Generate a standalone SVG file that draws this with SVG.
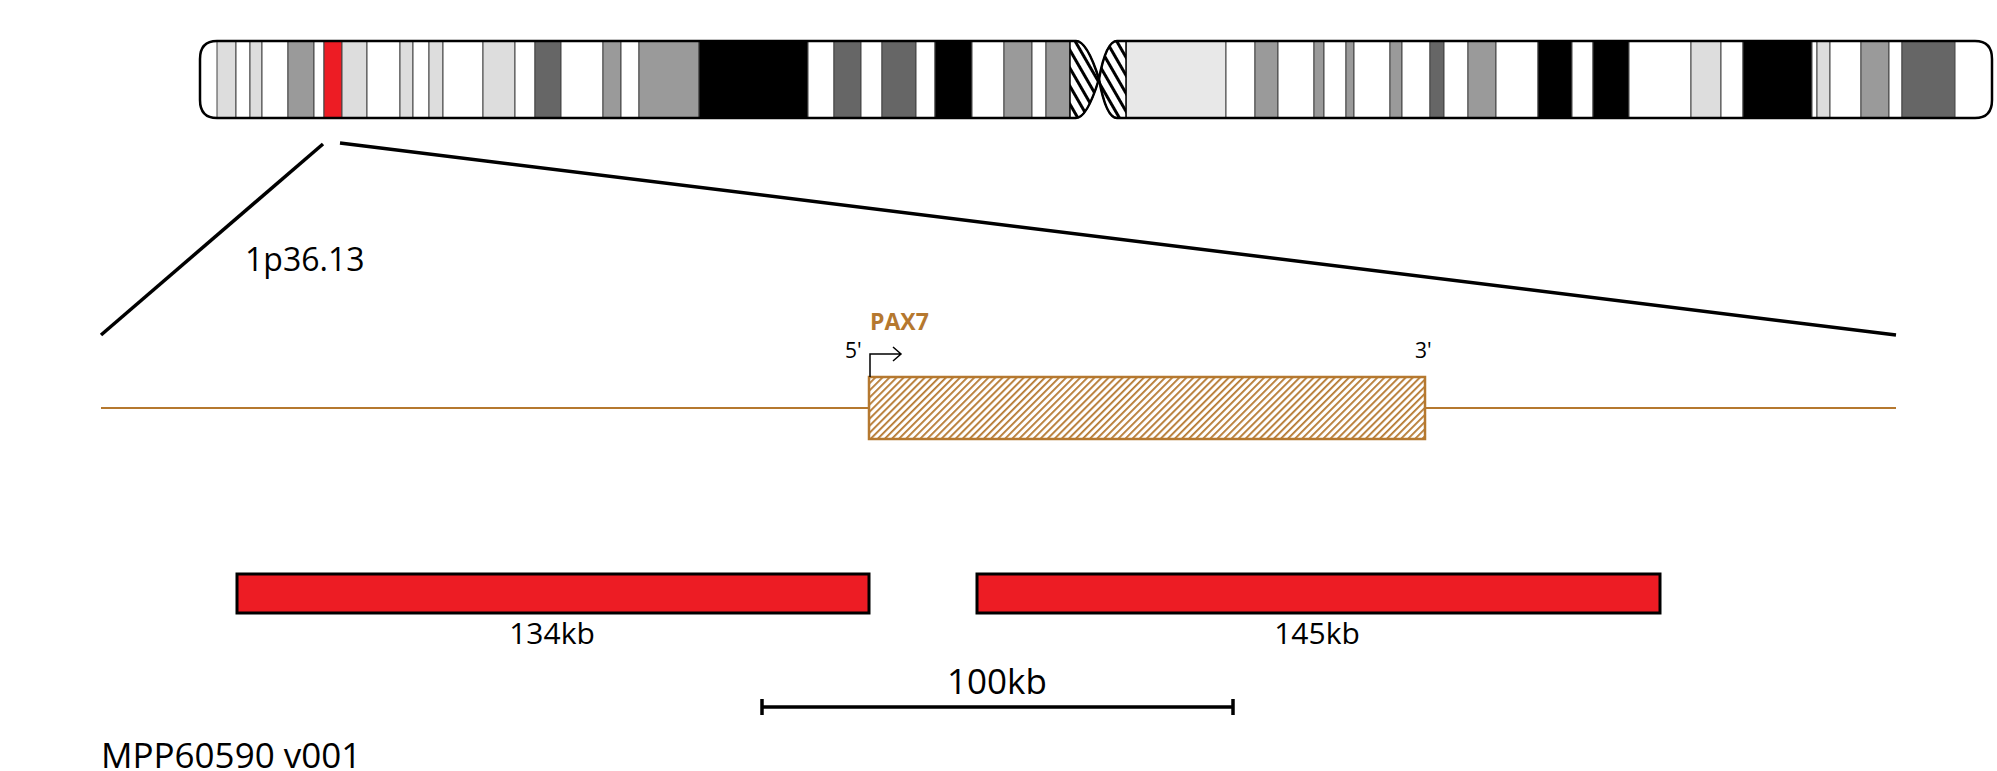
<svg xmlns="http://www.w3.org/2000/svg" width="1997" height="771" viewBox="0 0 1997 771">
<style>
text{font-family:"Open Sans","Liberation Sans",sans-serif;fill:#000}
.b{stroke:#444;stroke-width:1}
.w{fill:#fff}.l{fill:#ddd}.g{fill:#9a9a9a}.d{fill:#666}.k{fill:#000}.r{fill:#ed1c24}.e{fill:#e8e8e8}
.red{fill:#ed1c24;stroke:#000;stroke-width:3}
</style>
<defs>
<pattern id="ch" width="9" height="9" patternUnits="userSpaceOnUse" patternTransform="rotate(-30)"><rect width="9" height="9" fill="#fff"/><rect width="3" height="9" fill="#000"/></pattern>
<pattern id="gh" width="5" height="5" patternUnits="userSpaceOnUse" patternTransform="rotate(45)"><rect width="5" height="5" fill="#fff"/><rect width="1.8" height="5" fill="#b5782f"/></pattern>
</defs>
<g id="chromosome">
<path d="M217,41 H1072 Q1085,41 1099,79 Q1085,118 1072,118 H217 Q200,118 200,100 V59 Q200,41 217,41 Z" fill="#fff"/>
<g class="b">
<rect x="217" y="41" width="19" height="77" class="l"/><rect x="236" y="41" width="14" height="77" class="w"/>
<rect x="250" y="41" width="12" height="77" class="l"/><rect x="262" y="41" width="26" height="77" class="w"/>
<rect x="288" y="41" width="26" height="77" class="g"/><rect x="314" y="41" width="10" height="77" class="w"/>
<rect x="324" y="41" width="18" height="77" class="r"/><rect x="342" y="41" width="25" height="77" class="l"/>
<rect x="367" y="41" width="33" height="77" class="w"/><rect x="400" y="41" width="13" height="77" class="l"/>
<rect x="413" y="41" width="16" height="77" class="w"/><rect x="429" y="41" width="14" height="77" class="l"/>
<rect x="443" y="41" width="40" height="77" class="w"/><rect x="483" y="41" width="32" height="77" class="l"/>
<rect x="515" y="41" width="20" height="77" class="w"/><rect x="535" y="41" width="26" height="77" class="d"/>
<rect x="561" y="41" width="42" height="77" class="w"/><rect x="603" y="41" width="18" height="77" class="g"/>
<rect x="621" y="41" width="18" height="77" class="w"/><rect x="639" y="41" width="60" height="77" class="g"/>
<rect x="699" y="41" width="109" height="77" class="k"/><rect x="808" y="41" width="26" height="77" class="w"/>
<rect x="834" y="41" width="27" height="77" class="d"/><rect x="861" y="41" width="21" height="77" class="w"/>
<rect x="882" y="41" width="34" height="77" class="d"/><rect x="916" y="41" width="19" height="77" class="w"/>
<rect x="935" y="41" width="37" height="77" class="k"/><rect x="972" y="41" width="32" height="77" class="w"/>
<rect x="1004" y="41" width="28" height="77" class="g"/><rect x="1032" y="41" width="14" height="77" class="w"/>
<rect x="1046" y="41" width="24" height="77" class="g"/>
<rect x="1126" y="41" width="100" height="77" class="e"/><rect x="1226" y="41" width="29" height="77" class="w"/>
<rect x="1255" y="41" width="23" height="77" class="g"/><rect x="1278" y="41" width="36" height="77" class="w"/>
<rect x="1314" y="41" width="10" height="77" class="g"/><rect x="1324" y="41" width="22" height="77" class="w"/>
<rect x="1346" y="41" width="8" height="77" class="g"/><rect x="1354" y="41" width="36" height="77" class="w"/>
<rect x="1390" y="41" width="12" height="77" class="g"/><rect x="1402" y="41" width="28" height="77" class="w"/>
<rect x="1430" y="41" width="14" height="77" class="d"/><rect x="1444" y="41" width="24" height="77" class="w"/>
<rect x="1468" y="41" width="28" height="77" class="g"/><rect x="1496" y="41" width="42" height="77" class="w"/>
<rect x="1538" y="41" width="34" height="77" class="k"/><rect x="1572" y="41" width="21" height="77" class="w"/>
<rect x="1593" y="41" width="36" height="77" class="k"/><rect x="1629" y="41" width="62" height="77" class="w"/>
<rect x="1691" y="41" width="30" height="77" class="l"/><rect x="1721" y="41" width="22" height="77" class="w"/>
<rect x="1743" y="41" width="69" height="77" class="k"/><rect x="1812" y="41" width="5" height="77" class="w"/>
<rect x="1817" y="41" width="13" height="77" class="l"/><rect x="1830" y="41" width="31" height="77" class="w"/>
<rect x="1861" y="41" width="28" height="77" class="g"/><rect x="1889" y="41" width="13" height="77" class="w"/>
<rect x="1902" y="41" width="53" height="77" class="d"/>
</g>
<path d="M1070,41 H1076 Q1087,41 1099,79 Q1087,118 1076,118 H1070 Z" fill="url(#ch)" stroke="#000" stroke-width="1.5"/>
<path d="M1126,41 H1117 Q1106,41 1099,79 Q1106,118 1117,118 H1126 Z" fill="url(#ch)" stroke="#000" stroke-width="1.5"/>
<path d="M1076,41 H217 Q200,41 200,59 V100 Q200,118 217,118 H1076 Q1087,118 1099,79 Q1087,41 1076,41 Z" fill="none" stroke="#000" stroke-width="2.5"/>
<path d="M1117,41 H1975 Q1992,41 1992,59 V100 Q1992,118 1975,118 H1117 Q1106,118 1099,79 Q1106,41 1117,41 Z" fill="none" stroke="#000" stroke-width="2.5"/>
</g>
<g id="connectors" stroke="#000" stroke-width="3.5">
<line x1="323" y1="144" x2="101" y2="335"/>
<line x1="340" y1="143" x2="1896" y2="335"/>
</g>
<text x="245" y="271" font-size="32">1p36.13</text>
<g id="gene">
<line x1="101" y1="408" x2="1896" y2="408" stroke="#b5782f" stroke-width="2"/>
<rect x="869" y="377" width="556" height="62" fill="url(#gh)" stroke="#b5782f" stroke-width="2.5"/>
<text x="870" y="330" font-size="23" font-weight="bold" style="fill:#b5782f">PAX7</text>
<text x="845" y="358" font-size="21">5'</text>
<text x="1415" y="358" font-size="21">3'</text>
<path d="M870,377 V354 H901 M893,347 L901,354 L893,361" fill="none" stroke="#000" stroke-width="1.5"/>
</g>
<g id="bar1"><rect x="237" y="574" width="632" height="39" class="red"/><text x="552" y="644" font-size="30" text-anchor="middle">134kb</text></g>
<g id="bar2"><rect x="977" y="574" width="683" height="39" class="red"/><text x="1317" y="644" font-size="30" text-anchor="middle">145kb</text></g>
<g id="scale" stroke="#000" stroke-width="3.5">
<line x1="762" y1="707" x2="1233" y2="707"/><line x1="762" y1="699" x2="762" y2="715"/><line x1="1233" y1="699" x2="1233" y2="715"/>
</g>
<text x="997" y="694" font-size="35" text-anchor="middle">100kb</text>
<text x="101" y="768" font-size="35">MPP60590 v001</text>
</svg>
